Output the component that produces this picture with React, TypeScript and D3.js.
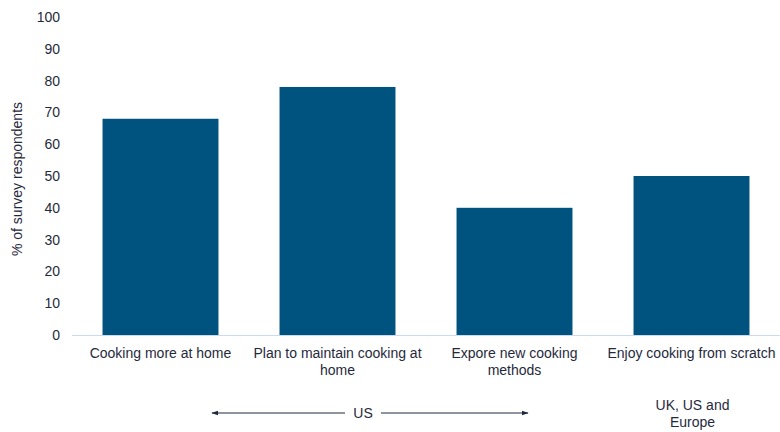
import React from "react";
import * as d3 from "d3";

const categories = [
  ["Cooking more at home"],
  ["Plan to maintain cooking at", "home"],
  ["Expore new cooking", "methods"],
  ["Enjoy cooking from scratch"],
];
const values = [68, 78, 40, 50];
const yTicks = [0, 10, 20, 30, 40, 50, 60, 70, 80, 90, 100];
const yTitle = "% of survey respondents";
const regionUS = "US";
const regionAll = ["UK, US and", "Europe"];

const W = 780;
const H = 432;
const FONT = "'Liberation Sans', Arial, sans-serif";
const TEXT = "#1f2a3c";
const BAR = "#00527f";
const FS = 14;

export default function App() {
  const x = d3
    .scaleBand<number>()
    .domain(values.map((_, i) => i))
    .range([72, 780])
    .paddingInner(0.345)
    .paddingOuter(0.1725);
  const y = d3.scaleLinear().domain([0, 100]).range([335, 17]);

  const cx = (i: number) => (x(i) as number) + x.bandwidth() / 2;
  const arrowY = 413;
  const usMid = 363;

  return (
    <svg
      width={W}
      height={H}
      style={{ position: "absolute", left: 0, top: 0 }}
      fontFamily={FONT}
    >
      <defs>
        <marker
          id="ah"
          viewBox="0 0 10 10"
          refX="9"
          refY="5"
          markerWidth="6"
          markerHeight="6"
          orient="auto-start-reverse"
        >
          <path d="M0,1.5 L10,5 L0,8.5 z" fill={TEXT} />
        </marker>
      </defs>
      <rect width={W} height={H} fill="#fff" />
      {yTicks.map((t) => (
        <text
          key={t}
          x={60}
          y={y(t)}
          dy="0.35em"
          textAnchor="end"
          fontSize={FS}
          fill={TEXT}
        >
          {t}
        </text>
      ))}
      <text
        transform={`translate(17,${y(50) + 3}) rotate(-90)`}
        textAnchor="middle"
        dy="0.35em"
        fontSize={FS}
        fill={TEXT}
      >
        {yTitle}
      </text>
      {values.map((v, i) => (
        <rect
          key={i}
          x={x(i)}
          y={y(v)}
          width={x.bandwidth()}
          height={y(0) - y(v)}
          fill={BAR}
        />
      ))}
      <line x1={72} x2={780} y1={y(0) + 0.5} y2={y(0) + 0.5} stroke="#c9dbee" strokeWidth={1} />
      {categories.map((lines, i) => (
        <text key={i} textAnchor="middle" fontSize={FS} fill={TEXT}>
          {lines.map((l, j) => (
            <tspan key={j} x={cx(i)} y={358 + j * 17}>
              {l}
            </tspan>
          ))}
        </text>
      ))}
      <line
        x1={usMid - 18}
        x2={212}
        y1={arrowY}
        y2={arrowY}
        stroke={TEXT}
        strokeWidth={1.2}
        markerEnd="url(#ah)"
      />
      <line
        x1={usMid + 18}
        x2={528}
        y1={arrowY}
        y2={arrowY}
        stroke={TEXT}
        strokeWidth={1.2}
        markerEnd="url(#ah)"
      />
      <text x={usMid} y={arrowY} dy="0.35em" textAnchor="middle" fontSize={FS} fill={TEXT}>
        {regionUS}
      </text>
      <text textAnchor="middle" fontSize={FS} fill={TEXT}>
        {regionAll.map((l, j) => (
          <tspan key={j} x={cx(3) + 1} y={410 + j * 17}>
            {l}
          </tspan>
        ))}
      </text>
    </svg>
  );
}
